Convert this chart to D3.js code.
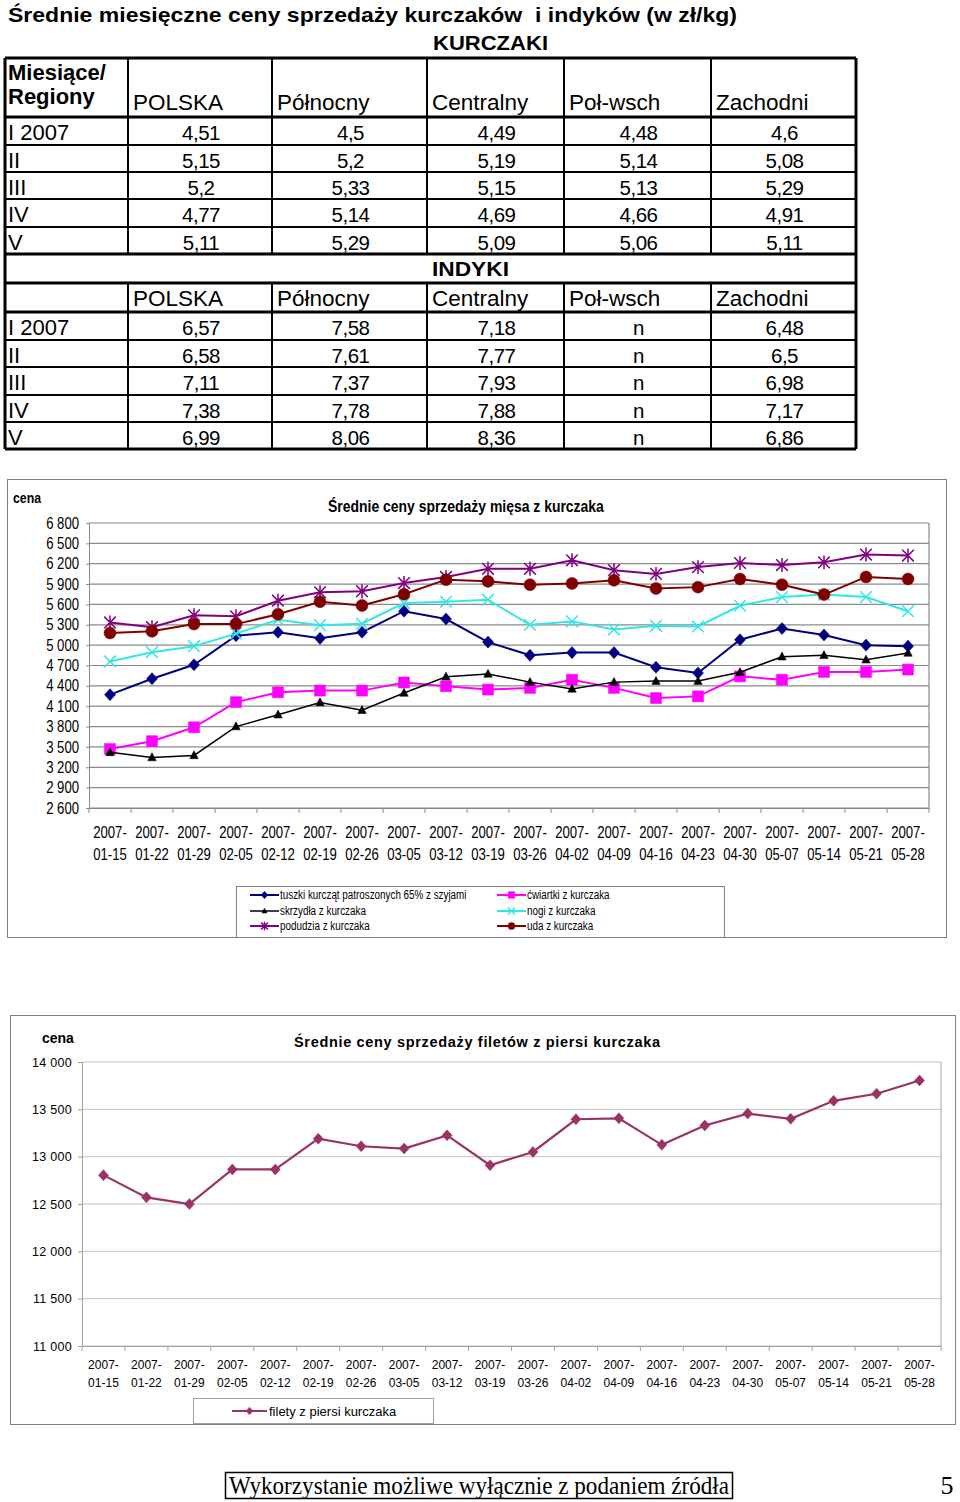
<!DOCTYPE html>
<html><head><meta charset="utf-8">
<script src="https://cdn.jsdelivr.net/npm/d3@7"></script>
<style>body{margin:0;background:#fff;} svg{display:block;font-family:'Liberation Sans',Arial,sans-serif;}</style>
</head><body><svg id="c" width="960" height="1502"></svg>
<script>
// ---------------- DATA ----------------
const regions = ["POLSKA","Północny","Centralny","Poł-wsch","Zachodni"];
const months = ["I 2007","II","III","IV","V"];
const kurczakiPrices = [
  [4.51,4.5,4.49,4.48,4.6],
  [5.15,5.2,5.19,5.14,5.08],
  [5.2,5.33,5.15,5.13,5.29],
  [4.77,5.14,4.69,4.66,4.91],
  [5.11,5.29,5.09,5.06,5.11]
];
const indykiPrices = [
  [6.57,7.58,7.18,null,6.48],
  [6.58,7.61,7.77,null,6.5],
  [7.11,7.37,7.93,null,6.98],
  [7.38,7.78,7.88,null,7.17],
  [6.99,8.06,8.36,null,6.86]
];
const weeks = ["2007-01-15","2007-01-22","2007-01-29","2007-02-05","2007-02-12","2007-02-19","2007-02-26","2007-03-05","2007-03-12","2007-03-19","2007-03-26","2007-04-02","2007-04-09","2007-04-16","2007-04-23","2007-04-30","2007-05-07","2007-05-14","2007-05-21","2007-05-28"];
const tuszki   = [4270,4505,4710,5140,5190,5100,5190,5500,5385,5045,4850,4890,4890,4675,4590,5080,5245,5150,5000,4985];
const cwiartki = [3470,3585,3790,4160,4305,4330,4330,4450,4395,4345,4370,4490,4370,4220,4245,4540,4490,4605,4605,4640];
const skrzydla = [3420,3345,3375,3800,3975,4155,4040,4295,4535,4575,4455,4355,4455,4470,4470,4600,4830,4850,4785,4885];
const nogi     = [4760,4895,4985,5170,5375,5295,5315,5620,5640,5670,5300,5350,5230,5285,5275,5580,5710,5745,5710,5500];
const podudzia = [5335,5265,5440,5425,5655,5780,5795,5915,6005,6125,6125,6250,6105,6050,6150,6210,6180,6220,6335,6320];
const uda      = [5180,5205,5310,5310,5455,5640,5585,5750,5965,5940,5890,5910,5955,5835,5855,5975,5890,5745,6005,5975];
const meatTicks = [2600,2900,3200,3500,3800,4100,4400,4700,5000,5300,5600,5900,6200,6500,6800];
const filety   = [12805,12570,12500,12865,12865,13190,13110,13085,13225,12910,13050,13395,13405,13125,13330,13455,13400,13590,13665,13805];
const filetTicks = [11000,11500,12000,12500,13000,13500,14000];

// ---------------- HELPERS ----------------
const svg = d3.select("#c");
const loc = d3.formatLocale({decimal:",", thousands:" ", grouping:[3], currency:["",""]});
const fmtThousands = loc.format(",");
const fmtPrice = v => v === null ? "n" : String(v).replace(".", ",");

function fontAvailable(name){
  const c = document.createElement("canvas").getContext("2d");
  const s = "abcdefghijklmnop 0123456789";
  c.font = "40px monospace"; const w0 = c.measureText(s).width;
  c.font = "40px '" + name + "', monospace"; const w1 = c.measureText(s).width;
  return w0 !== w1;
}
const hasNarrow = fontAvailable("Liberation Sans Narrow");
const NARROW = "'Liberation Sans Narrow','Arial Narrow','Liberation Sans',sans-serif";
function narrow(sel){
  sel.attr("font-family", NARROW);
  if (!hasNarrow){
    sel.each(function(){
      const L = this.getComputedTextLength();
      d3.select(this).attr("textLength", L*0.82).attr("lengthAdjust","spacingAndGlyphs");
    });
  }
  return sel;
}

// ---------------- TABLE ----------------
const colX = [5,128,272,427,564,711,856];
const tbl = svg.append("g");
tbl.append("text").attr("x",8).attr("y",22).attr("font-size",21).attr("font-weight","bold")
  .style("white-space","pre").attr("textLength",729).attr("lengthAdjust","spacingAndGlyphs")
  .text("Średnie miesięczne ceny sprzedaży kurczaków  i indyków (w zł/kg)");
tbl.append("text").attr("x",433).attr("y",50).attr("font-size",21).attr("font-weight","bold")
  .attr("textLength",115).attr("lengthAdjust","spacingAndGlyphs").text("KURCZAKI");
tbl.append("text").attr("x",432).attr("y",276).attr("font-size",21).attr("font-weight","bold")
  .attr("textLength",77).attr("lengthAdjust","spacingAndGlyphs").text("INDYKI");

function drawBlock(headerTop, headerBottom, rowEdges, values, headerBaseline, firstHeader){
  if (firstHeader){
    tbl.append("text").attr("x",8).attr("y",80).attr("font-size",22).attr("font-weight","bold").text("Miesiące/");
    tbl.append("text").attr("x",8).attr("y",104).attr("font-size",22).attr("font-weight","bold").text("Regiony");
  }
  tbl.selectAll(null).data(regions).enter().append("text")
    .attr("x",(d,i)=>colX[i+1]+5).attr("y",headerBaseline).attr("font-size",22.5).text(d=>d);
  values.forEach((row,r)=>{
    const top = rowEdges[r];
    tbl.append("text").attr("x",8).attr("y",top+23).attr("font-size",22).text(months[r]);
    tbl.selectAll(null).data(row).enter().append("text")
      .attr("x",(d,i)=>(colX[i+1]+colX[i+2])/2+1).attr("y",top+23)
      .attr("text-anchor","middle").attr("font-size",20.5).attr("letter-spacing",-0.5).text(fmtPrice);
  });
  const ys = [headerTop, headerBottom].concat(rowEdges);
  ys.forEach((y,i)=>{
    tbl.append("line").attr("x1",colX[0]).attr("x2",colX[6]).attr("y1",y).attr("y2",y)
      .attr("stroke","#000").attr("stroke-width", (i<2 || i===ys.length-1)?3:2);
  });
  colX.forEach((x,i)=>{
    tbl.append("line").attr("x1",x).attr("x2",x).attr("y1",headerTop).attr("y2",rowEdges[rowEdges.length-1])
      .attr("stroke","#000").attr("stroke-width",(i===0||i===6)?3:2);
  });
}
drawBlock(58,117,[117,145,172,199,227,254],kurczakiPrices,110,true);
drawBlock(283,312,[312,340,367,395,422,449],indykiPrices,306,false);
tbl.append("line").attr("x1",5).attr("x2",5).attr("y1",254).attr("y2",283).attr("stroke","#000").attr("stroke-width",3);
tbl.append("line").attr("x1",856).attr("x2",856).attr("y1",254).attr("y2",283).attr("stroke","#000").attr("stroke-width",3);

// ---------------- MARKERS ----------------
function markerPath(type, s){
  switch(type){
    case "diamond": return `M0,${-s*1.1}L${s},0L0,${s*1.1}L${-s},0Z`;
    case "square": return `M${-s},${-s}H${s}V${s}H${-s}Z`;
    case "triangle": return `M0,${-s}L${s*0.9},${s*0.7}L${-s*0.9},${s*0.7}Z`;
    case "circle": return d3.symbol(d3.symbolCircle, Math.PI*s*s)();
    case "x": return `M${-s},${-s}L${s},${s}M${-s},${s}L${s},${-s}`;
    case "star": return `M${-s},${-s}L${s},${s}M${-s},${s}L${s},${-s}M0,${-s*1.2}V${s*1.2}`;
  }
}
function drawMarker(g, type, color, s, x, y){
  const filled = !(type==="x"||type==="star");
  g.append("path").attr("d",markerPath(type,s)).attr("transform",`translate(${x},${y})`)
    .attr("fill", filled?color:"none").attr("stroke",color).attr("stroke-width",filled?0.5:1.5);
}

// ---------------- CHART 1 ----------------
const c1 = svg.append("g");
c1.append("rect").attr("x",7.5).attr("y",479.5).attr("width",939).attr("height",458)
  .attr("fill","#fff").attr("stroke","#808080");
const x1 = d3.scaleBand().domain(weeks).range([89,929]);
const y1 = d3.scaleLinear().domain([2600,6800]).range([808,523]);
const cx1 = d => x1(d)+x1.bandwidth()/2;
c1.append("g").selectAll("line").data(meatTicks).enter().append("line")
  .attr("x1",89).attr("x2",929).attr("y1",d=>y1(d)).attr("y2",d=>y1(d)).attr("stroke","#8a8a8a").attr("stroke-width",1.2);
c1.append("line").attr("x1",929).attr("x2",929).attr("y1",523).attr("y2",808).attr("stroke","#8a8a8a").attr("stroke-width",1.2);
const ya1 = c1.append("g").attr("transform","translate(89,0)")
  .call(d3.axisLeft(y1).tickValues(meatTicks).tickSize(3).tickPadding(7).tickFormat(fmtThousands));
ya1.select(".domain").attr("stroke","#8a8a8a");
ya1.selectAll(".tick line").attr("stroke","#8a8a8a");
narrow(ya1.selectAll("text").attr("font-size",16).attr("fill","#000"));
const xa1 = c1.append("g").attr("transform","translate(0,808)")
  .call(d3.axisBottom(x1).tickSize(0).tickFormat(""));
xa1.select(".domain").attr("stroke","#8a8a8a");
c1.append("g").selectAll("line").data(weeks.concat(["end"])).enter().append("line")
  .attr("x1",(d,i)=>89+i*x1.step()).attr("x2",(d,i)=>89+i*x1.step()).attr("y1",808).attr("y2",813)
  .attr("stroke","#8a8a8a");
narrow(c1.append("g").selectAll("text").data(weeks).enter().append("text")
  .attr("x",d=>cx1(d)).attr("y",838).attr("text-anchor","middle").attr("font-size",16).text(d=>d.slice(0,5)));
narrow(c1.append("g").selectAll("text").data(weeks).enter().append("text")
  .attr("x",d=>cx1(d)).attr("y",860).attr("text-anchor","middle").attr("font-size",16).text(d=>d.slice(5)));
narrow(c1.append("text").attr("x",13).attr("y",503).attr("font-size",15).attr("font-weight","bold").text("cena"));
narrow(c1.append("text").attr("x",328).attr("y",512).attr("font-size",17).attr("font-weight","bold").text("Średnie ceny sprzedaży mięsa z kurczaka"));

const series1 = [
  {name:"tuszki kurcząt patroszonych 65% z szyjami", data:tuszki, color:"#000080", m:"diamond", s:5.5, lw:2},
  {name:"ćwiartki z kurczaka", data:cwiartki, color:"#ff00ff", m:"square", s:5.5, lw:2},
  {name:"skrzydła z kurczaka", data:skrzydla, color:"#000000", m:"triangle", s:4.7, lw:1.5},
  {name:"nogi z kurczaka", data:nogi, color:"#33e6e6", m:"x", s:5.8, lw:2},
  {name:"podudzia z kurczaka", data:podudzia, color:"#800080", m:"star", s:5.8, lw:2},
  {name:"uda z kurczaka", data:uda, color:"#800000", m:"circle", s:6, lw:2}
];
const line1 = d3.line().x((d,i)=>cx1(weeks[i])).y(d=>y1(d));
series1.forEach(s=>{
  c1.append("path").datum(s.data).attr("d",line1).attr("fill","none").attr("stroke",s.color).attr("stroke-width",s.lw);
  const g = c1.append("g");
  s.data.forEach((v,i)=>drawMarker(g,s.m,s.color,s.s,cx1(weeks[i]),y1(v)));
});
const lg1 = c1.append("g");
lg1.append("rect").attr("x",236.5).attr("y",886.5).attr("width",488).attr("height",51).attr("fill","#fff").attr("stroke","#808080");
const legPos = [[250,895],[497,895],[250,911],[497,911],[250,926],[497,926]];
series1.forEach((s,i)=>{
  const [lx,ly] = legPos[i];
  lg1.append("line").attr("x1",lx).attr("x2",lx+29).attr("y1",ly).attr("y2",ly).attr("stroke",s.color).attr("stroke-width",s.lw);
  drawMarker(lg1,s.m,s.color,s.s*0.6,lx+14.5,ly);
  narrow(lg1.append("text").attr("x",lx+30).attr("y",ly+4).attr("font-size",12).text(s.name));
});

// ---------------- CHART 2 ----------------
const c2 = svg.append("g");
c2.append("rect").attr("x",10.5).attr("y",1015.5).attr("width",945).attr("height",409)
  .attr("fill","#fff").attr("stroke","#808080");
const x2 = d3.scaleBand().domain(weeks).range([82,941]);
const y2 = d3.scaleLinear().domain([11000,14000]).range([1346,1062]);
const cx2 = d => x2(d)+x2.bandwidth()/2;
c2.append("g").selectAll("line").data(filetTicks).enter().append("line")
  .attr("x1",82).attr("x2",941).attr("y1",d=>y2(d)).attr("y2",d=>y2(d)).attr("stroke","#c4c4c4");
c2.append("line").attr("x1",941).attr("x2",941).attr("y1",1062).attr("y2",1346).attr("stroke","#a0a0a0");
const ya2 = c2.append("g").attr("transform","translate(82,0)")
  .call(d3.axisLeft(y2).tickValues(filetTicks).tickSize(4).tickPadding(6).tickFormat(fmtThousands));
ya2.select(".domain").attr("stroke","#a0a0a0");
ya2.selectAll(".tick line").attr("stroke","#a0a0a0");
ya2.selectAll("text").attr("font-size",12.5).attr("letter-spacing",0.3).attr("fill","#000");
const xa2 = c2.append("g").attr("transform","translate(0,1346)")
  .call(d3.axisBottom(x2).tickSize(0).tickFormat(""));
xa2.select(".domain").attr("stroke","#a0a0a0");
c2.append("g").selectAll("line").data(weeks.concat(["end"])).enter().append("line")
  .attr("x1",(d,i)=>82+i*x2.step()).attr("x2",(d,i)=>82+i*x2.step()).attr("y1",1346).attr("y2",1351)
  .attr("stroke","#a0a0a0");
c2.append("g").selectAll("text").data(weeks).enter().append("text")
  .attr("x",d=>cx2(d)).attr("y",1369).attr("text-anchor","middle").attr("font-size",12).text(d=>d.slice(0,5));
c2.append("g").selectAll("text").data(weeks).enter().append("text")
  .attr("x",d=>cx2(d)).attr("y",1387).attr("text-anchor","middle").attr("font-size",12).text(d=>d.slice(5));
c2.append("text").attr("x",42).attr("y",1043).attr("font-size",14).attr("font-weight","bold").text("cena");
c2.append("text").attr("x",294).attr("y",1047).attr("font-size",14.5).attr("font-weight","bold")
  .attr("textLength",366).attr("lengthAdjust","spacing").text("Średnie ceny sprzedaży filetów z piersi kurczaka");
const line2 = d3.line().x((d,i)=>cx2(weeks[i])).y(d=>y2(d));
c2.append("path").datum(filety).attr("d",line2).attr("fill","none").attr("stroke","#993366").attr("stroke-width",2.2);
const g2 = c2.append("g");
filety.forEach((v,i)=>drawMarker(g2,"diamond","#993366",5,cx2(weeks[i]),y2(v)));
const lg2 = c2.append("g");
lg2.append("rect").attr("x",193.5).attr("y",1398.5).attr("width",240).attr("height",25).attr("fill","#fff").attr("stroke","#a0a0a0");
lg2.append("line").attr("x1",232).attr("x2",267).attr("y1",1411).attr("y2",1411).attr("stroke","#993366").attr("stroke-width",2.2);
drawMarker(lg2,"diamond","#993366",3.5,249.5,1411);
lg2.append("text").attr("x",269).attr("y",1415.5).attr("font-size",13).text("filety z piersi kurczaka");

// ---------------- FOOTER ----------------
svg.append("rect").attr("x",225.5).attr("y",1472.5).attr("width",507).attr("height",26).attr("fill","none").attr("stroke","#000").attr("stroke-width",1.5);
svg.append("text").attr("x",229).attr("y",1494).attr("font-family","'Liberation Serif','Times New Roman',serif")
  .attr("font-size",25).attr("textLength",500).attr("lengthAdjust","spacingAndGlyphs").text("Wykorzystanie możliwe wyłącznie z podaniem źródła");
svg.append("text").attr("x",947).attr("y",1494).attr("text-anchor","middle").attr("font-family","'Liberation Serif','Times New Roman',serif")
  .attr("font-size",26).text("5");
</script></body></html>
